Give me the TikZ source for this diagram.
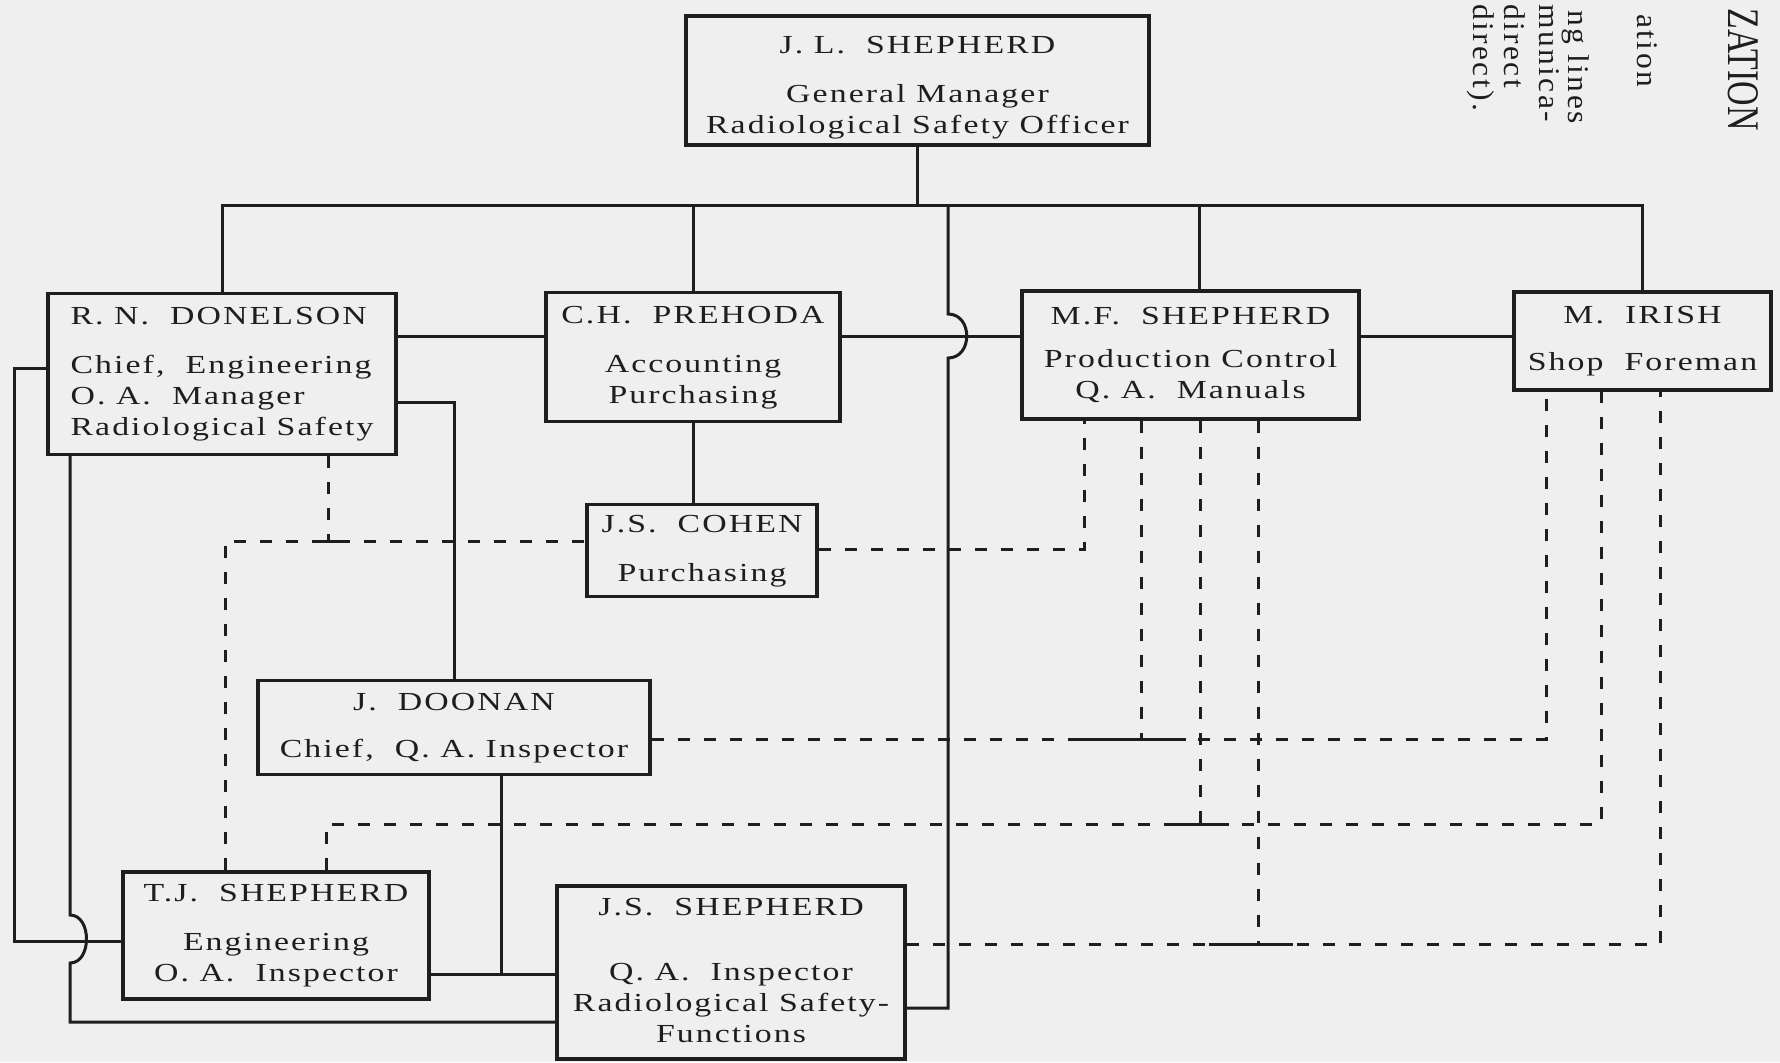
\documentclass[tikz,border=0pt]{standalone}
\usepackage{fontspec}
\usepackage{tikz}
\usetikzlibrary{positioning,calc}

\newfontfamily\chartfont{Liberation Serif}[FakeStretch=1.3, LetterSpace=8]
\newfontfamily\notefont{Liberation Serif}[FakeStretch=1.05, LetterSpace=8]
\newfontfamily\titlefont{Liberation Serif}[FakeStretch=0.75]
\setlength{\tabcolsep}{2pt}

\definecolor{ink}{HTML}{1E1E1E}
\definecolor{paper}{HTML}{EFEFEF}

\tikzset{
    orgbox/.style={draw=ink, line width=1.7pt, fill=paper, inner sep=0pt, text=ink},
    solidline/.style={draw=ink, line width=1.5pt},
    dashline/.style={draw=ink, line width=1.5pt, dash pattern=on 6pt off 7pt},
    notetext/.style={rotate=-90, anchor=base west, inner sep=0pt, text=ink,
        font=\notefont\fontsize{15}{18}\selectfont},
}

\begin{document}
\begin{tikzpicture}[x=0.5pt, y=-0.5pt, font=\chartfont\fontsize{13}{15.5}\selectfont]

    \useasboundingbox (0,0) rectangle (1780,1062);
    \fill[paper] (0,0) rectangle (1780,1062);

    % ---------- boxes

    \node[orgbox, minimum width=231.5pt, minimum height=64.5pt] (jls) at (917.5,80.5) {
    \raisebox{-3.5pt}[\height][\depth]{%
    \begin{tabular}{c}
    J. L. \ SHEPHERD\\[9pt]
    General Manager\\
    Radiological Safety Officer
    \end{tabular}}
    };

    \node[orgbox, minimum width=174pt, minimum height=80.5pt] (rnd) at (222,374) {
    \begin{tabular}{l}
    R. N. \ DONELSON\\[9pt]
    Chief, \ Engineering\\
    O. A. \ Manager\\
    Radiological Safety
    \end{tabular}
    };

    \node[orgbox, minimum width=147pt, minimum height=64.5pt] (chp) at (693,357) {
    \begin{tabular}{c}
    C.H. \ PREHODA\\[9pt]
    Accounting\\
    Purchasing
    \end{tabular}
    };

    \node[orgbox, minimum width=168.5pt, minimum height=64pt] (mfs) at (1190.5,355) {
    \begin{tabular}{c}
    M.F. \ SHEPHERD\\[6pt]
    Production Control\\
    Q. A. \ Manuals
    \end{tabular}
    };

    \node[orgbox, minimum width=128.5pt, minimum height=49pt] (mi) at (1642.5,341) {
    \begin{tabular}{c}
    M. \ IRISH\\[8pt]
    Shop \ Foreman
    \end{tabular}
    };

    \node[orgbox, minimum width=115pt, minimum height=46pt] (jsc) at (702,550.5) {
    \begin{tabular}{c}
    J.S. \ COHEN\\[9pt]
    Purchasing
    \end{tabular}
    };

    \node[orgbox, minimum width=196pt, minimum height=47pt] (jd) at (454,727.5) {
    \begin{tabular}{c}
    J. \ DOONAN\\[8pt]
    Chief, \ Q. A. Inspector
    \end{tabular}
    };

    \node[orgbox, minimum width=153pt, minimum height=63.5pt] (tjs) at (276,935.5) {
    \begin{tabular}{c}
    T.J. \ SHEPHERD\\[9pt]
    Engineering\\
    O. A. \ Inspector
    \end{tabular}
    };

    \node[orgbox, minimum width=174pt, minimum height=86.5pt] (jss) at (731,972.5) {
    \begin{tabular}{c}
    J.S. \ SHEPHERD\\[17pt]
    Q. A. \ Inspector\\
    Radiological Safety-\\
    Functions
    \end{tabular}
    };

    % ---------- notes on the right edge

    \node[notetext] (note1) at (1473,4) {direct).};
    \node[notetext] (note2) at (1504,4) {direct};
    \node[notetext] (note3) at (1539,4) {munica-};
    \node[notetext] (note4) at (1568,10) {ng lines};
    \node[notetext] (note5) at (1637,14) {ation};
    \node[notetext, font=\titlefont\fontsize{22.6}{26}\selectfont] (ttl) at (1728,8) {ZATION};

    % ---------- solid lines

    \coordinate (busy) at (0,205);
    \coordinate (rowy) at (0,336);
    \coordinate (riser) at (948,205);
    \coordinate (riseb) at (948,1008);

    \draw[solidline] (jls.south) -- (jls.south |- busy);
    \draw[solidline] (rnd.north) |- (mi.north |- busy) -- (mi.north);
    \draw[solidline] (chp.north) -- (chp.north |- busy);
    \draw[solidline] ($(mfs.north)+(9,0)$) -- ($(mfs.north |- busy)+(9,0)$);

    \draw[solidline] (rnd.east |- rowy) -- (chp.west |- rowy);
    \draw[solidline] (chp.east |- rowy) -- (mfs.west |- rowy);
    \draw[solidline] (mfs.east |- rowy) -- (mi.west |- rowy);

    % riser with hop over the row line
    \draw[solidline] (riser) -- (948,314) .. controls (973,314) and (973,358) .. (948,358)
        -- (riseb) -- (jss.east |- riseb);

    \draw[solidline] (chp.south) -- (chp.south |- jsc.north);

    \coordinate (rnry) at (0,402);
    \draw[solidline] (rnd.east |- rnry) -| (jd.north);

    \coordinate (rnly) at (0,368);
    \coordinate (loopx) at (14,0);
    \coordinate (tjly) at (0,941);
    \draw[solidline] (rnd.west |- rnly) -| (loopx |- tjly) -- (tjs.west |- tjly);

    % down from R.N. with hop, to J.S.
    \coordinate (hopx) at (70,0);
    \coordinate (baseY) at (0,1022);
    \draw[solidline] (rnd.south -| hopx) -- (70,915) .. controls (92,915) and (92,963) .. (70,963)
        -- (hopx |- baseY) -- (jss.west |- baseY);

    \coordinate (lowy) at (0,974);
    \coordinate (jdx) at (501,0);
    \draw[solidline] (tjs.east |- lowy) -- (jss.west |- lowy);
    \draw[solidline] (jd.south -| jdx) -- (jdx |- lowy);

    % ---------- dashed lines

    \coordinate (cohy) at (0,541);
    \coordinate (engx) at (225,0);
    \coordinate (rnx) at (328,0);
    \draw[dashline] (rnd.south -| rnx) -- (rnx |- cohy);
    \draw[dashline] (tjs.north -| engx) |- (jsc.west |- cohy);

    \coordinate (cohry) at (0,549);
    \coordinate (mfa) at (1084,0);
    \draw[dashline] (jsc.east |- cohry) -| (mfs.south -| mfa);

    \coordinate (dooy) at (0,739);
    \coordinate (mfb) at (1141,0);
    \coordinate (mia) at (1546,0);
    \draw[dashline] (jd.east |- dooy) -| (mi.south -| mia);
    \draw[dashline] (mfs.south -| mfb) -- (mfb |- dooy);

    \coordinate (insy) at (0,824);
    \coordinate (tjx) at (326,0);
    \coordinate (mfc) at (1200,0);
    \coordinate (mib) at (1601,0);
    \draw[dashline] (tjs.north -| tjx) |- (mib |- insy) -- (mi.south -| mib);
    \draw[dashline] (mfs.south -| mfc) -- (mfc |- insy);

    \coordinate (jssy) at (0,944);
    \coordinate (mfd) at (1258,0);
    \coordinate (mic) at (1660,0);
    \draw[dashline] (jss.east |- jssy) -| (mi.south -| mic);
    \draw[dashline] (mfs.south -| mfd) -- (mfd |- jssy);

    % solid bits where the dashed lines meet
    \draw[solidline] ($(rnx |- cohy)+(-14,0)$) -- ($(rnx |- cohy)+(14,0)$);
    \draw[solidline] ($(mfb |- dooy)+(-62,0)$) -- ($(mfb |- dooy)+(45,0)$);
    \draw[solidline] ($(mfc |- insy)+(-36,0)$) -- ($(mfc |- insy)+(29,0)$);
    \draw[solidline] ($(mfd |- jssy)+(-49,0)$) -- ($(mfd |- jssy)+(35,0)$);

\end{tikzpicture}
\end{document}
